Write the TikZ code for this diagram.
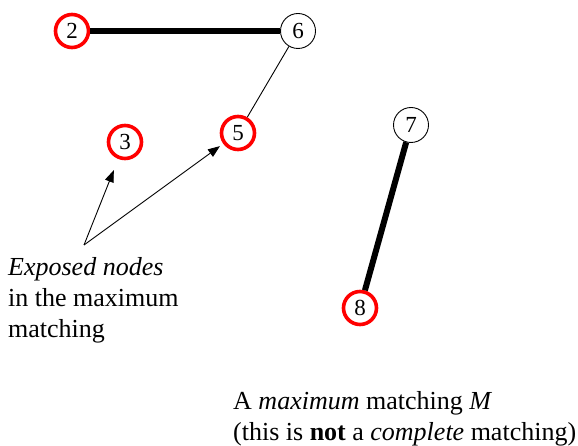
\documentclass[tikz,border=0pt]{standalone}
\usepackage{fontspec}
\setmainfont{Liberation Serif}
\usetikzlibrary{arrows.meta}

\begin{document}
\begin{tikzpicture}[x=1pt,y=-1pt,
  vtx/.style={circle,draw,line width=.9pt,minimum size=35pt,inner sep=0pt,
    font=\fontsize{23}{23}\selectfont},
  exposed/.style={vtx,draw=red,line width=3.6pt,minimum size=33pt},
  matched/.style={line width=6pt},
  pointer/.style={-{Triangle[length=12pt,width=9pt]},line width=.9pt},
  txt/.style={align=left,inner sep=0pt,font=\fontsize{26}{31}\selectfont}]
\useasboundingbox (0,0) rectangle (578,446);
% vertices
\foreach \n/\x/\y in {6/298/31,7/411/125}{
  \node[vtx] (n\n) at (\x,\y) {\n};
}
\foreach \n/\x/\y in {2/72/31,3/125/142,5/238/133,8/360/308}{
  \node[exposed] (n\n) at (\x,\y) {\n};
}
% edges
\draw[matched] (n2) -- (n6);
\draw[matched] (n7) -- (n8);
\draw[line width=.9pt] (n6) -- (n5);
% labels
\coordinate (apex) at (84,245);
\draw[pointer,shorten >=12pt] (apex) -- (n3);
\draw[pointer,shorten >=4pt] (apex) -- (n5);
\node[txt,anchor=base west] (note) at (8,337) {\textit{Exposed nodes}\\in the maximum\\matching};
\node[txt,anchor=base west] (caption) at (233,440) {A \textit{maximum} matching \textit{M}\\(this is \textbf{not} a \textit{complete} matching)};
\end{tikzpicture}
\end{document}
